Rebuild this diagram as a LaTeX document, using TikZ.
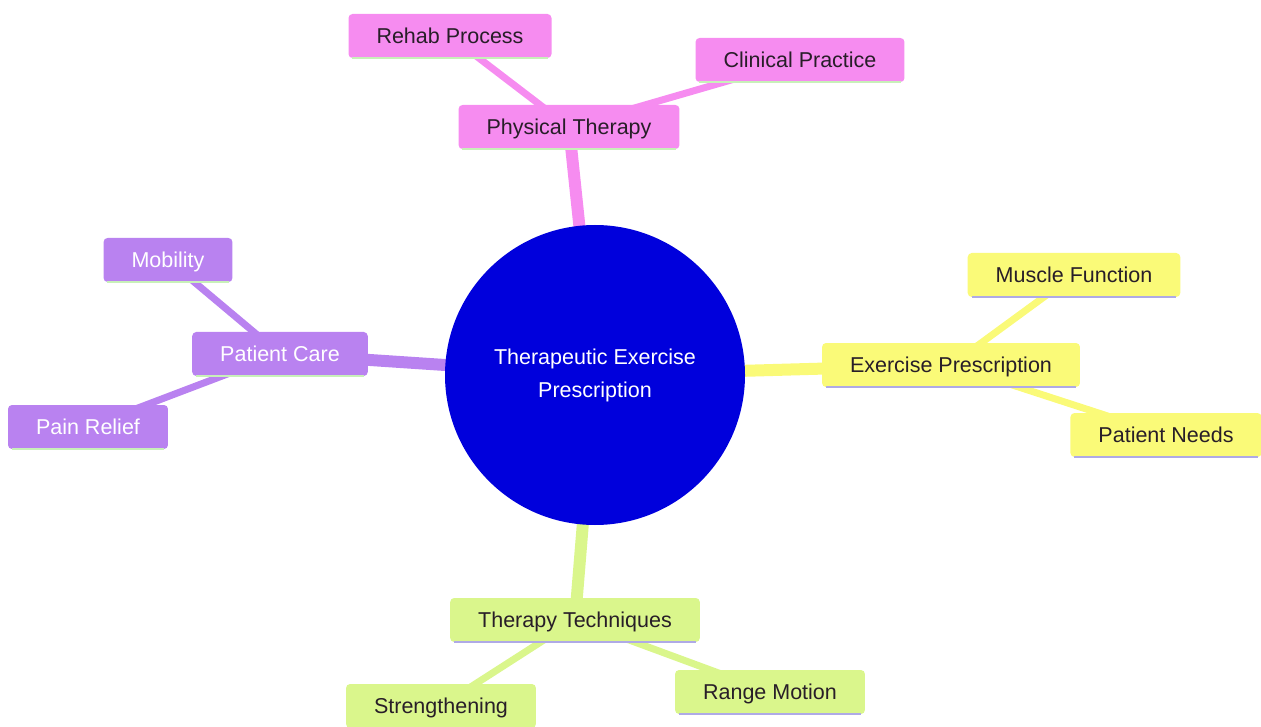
\documentclass[tikz,border=0pt]{standalone}
\usepackage{fontspec}
\setmainfont{Liberation Sans}
\usetikzlibrary{backgrounds}
\definecolor{pinkfill}{RGB}{246,140,240}
\definecolor{purplefill}{RGB}{185,130,240}
\definecolor{yellowfill}{RGB}{250,250,120}
\definecolor{greenfill}{RGB}{218,246,140}
\definecolor{hubblue}{RGB}{0,0,220}
\definecolor{greenline}{RGB}{200,240,185}
\definecolor{lavline}{RGB}{175,170,230}
\definecolor{darktext}{RGB}{40,30,40}
\tikzset{
  box/.style={rectangle, rounded corners=4pt, minimum height=44pt, inner xsep=28pt,
    inner ysep=0pt, text height=15pt, text depth=0.5pt,
    font=\fontsize{21.5}{33}\selectfont},
  pinkbox/.style={box, fill=pinkfill, text=darktext},
  purplebox/.style={box, fill=purplefill, text=white},
  yellowbox/.style={box, fill=yellowfill, text=darktext},
  greenbox/.style={box, fill=greenfill, text=darktext},
  hub/.style={circle, fill=hubblue, minimum size=300pt, inner sep=0pt, text=white,
    align=center, font=\fontsize{21.5}{33}\selectfont},
  thickedge/.style={line width=12pt},
  thinedge/.style={line width=7pt},
}
\begin{document}
\begin{tikzpicture}[x=1pt,y=-1pt]
\useasboundingbox (0,0) rectangle (1261,727);
% nodes
\node[hub] (c) at (595,375) {Therapeutic Exercise\\Prescription};
\node[pinkbox] (pt) at (569,127) {Physical Therapy};
\node[pinkbox] (rp) at (450,36) {Rehab Process};
\node[pinkbox] (cp) at (800,60) {Clinical Practice};
\node[purplebox] (pc) at (280,354) {Patient Care};
\node[purplebox] (mo) at (168,260) {Mobility};
\node[purplebox] (pr) at (88,427) {Pain Relief};
\node[yellowbox] (ep) at (951,365) {Exercise Prescription};
\node[yellowbox] (mf) at (1074,275) {Muscle Function};
\node[yellowbox] (pn) at (1166,435) {Patient Needs};
\node[greenbox] (tt) at (575,620) {Therapy Techniques};
\node[greenbox] (st) at (441,706) {Strengthening};
\node[greenbox] (rm) at (770,692) {Range Motion};
% bottom lines
\foreach \n in {pt,rp,cp,pc,mo,pr}
  \draw[greenline, line width=2.5pt] ([xshift=4pt]\n.south west) -- ([xshift=-4pt]\n.south east);
\foreach \n in {ep,mf,pn,tt,st,rm}
  \draw[lavline, line width=2.5pt] ([xshift=4pt]\n.south west) -- ([xshift=-4pt]\n.south east);
% edges behind
\begin{pgfonlayer}{background}
  \draw[thickedge, pinkfill] (c.center) -- (pt.center);
  \draw[thinedge, pinkfill] (pt.center) -- (rp.center);
  \draw[thinedge, pinkfill] (pt.center) -- (cp.center);
  \draw[thickedge, purplefill] (c.center) -- (pc.center);
  \draw[thinedge, purplefill] (pc.center) -- (mo.center);
  \draw[thinedge, purplefill] (pc.center) -- (pr.center);
  \draw[thickedge, yellowfill] (c.center) -- (ep.center);
  \draw[thinedge, yellowfill] (ep.center) -- (mf.center);
  \draw[thinedge, yellowfill] (ep.center) -- (pn.center);
  \draw[thickedge, greenfill] (c.center) -- (tt.center);
  \draw[thinedge, greenfill] (tt.center) -- (st.center);
  \draw[thinedge, greenfill] (tt.center) -- (rm.center);
\end{pgfonlayer}
\end{tikzpicture}
\end{document}
